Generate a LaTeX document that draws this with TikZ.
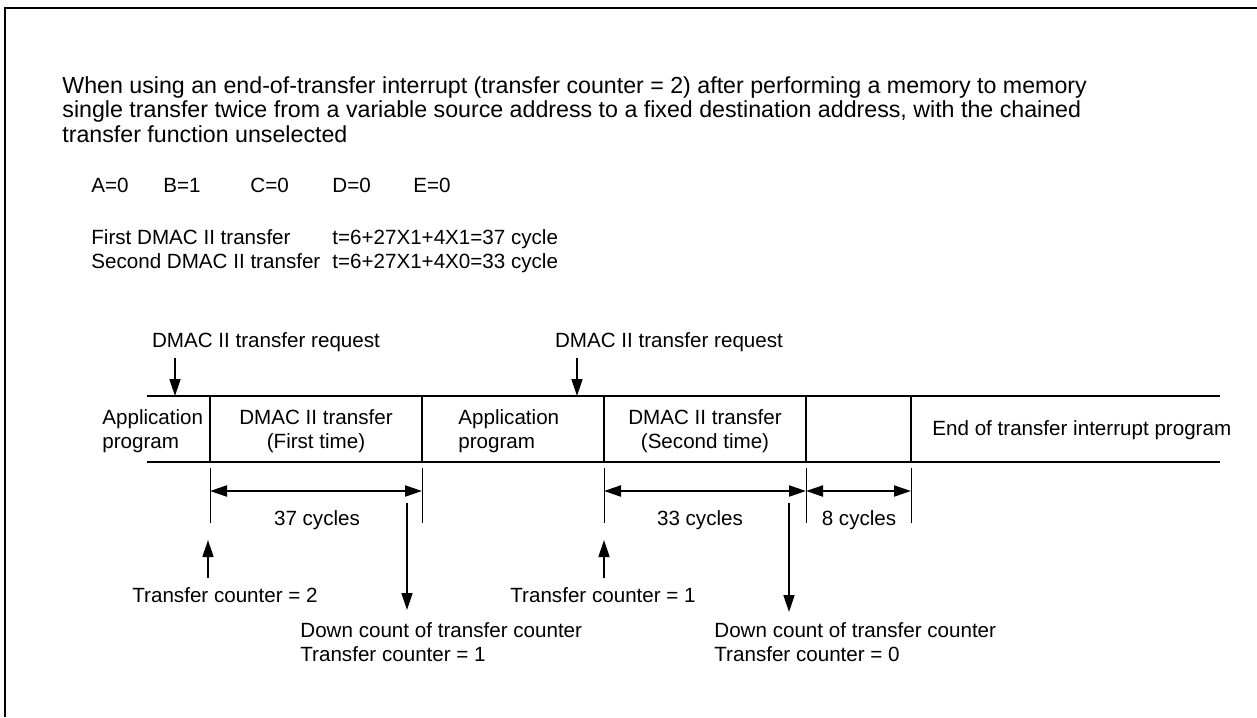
\documentclass[tikz,border=0pt]{standalone}
\usepackage{fontspec}
\setmainfont{Liberation Sans}
\usetikzlibrary{arrows.meta,positioning}

\begin{document}
\begin{tikzpicture}[x=.5pt,y=-.5pt,>={Triangle[length=8.5pt,width=5.5pt]},
  every node/.style={font=\fontsize{10.3}{12.3}\selectfont,inner sep=0pt},
  txt/.style={anchor=base west},bar/.style={line width=1pt},tick/.style={line width=.5pt}]
\useasboundingbox (0,0) rectangle (1257,717);
\draw[line width=1.3pt] (5,717)--(5,8)--(1257,8);
% conditions
\node[anchor=north west,align=left,font=\fontsize{11.6}{12.3}\selectfont] (intro) at (62,76) {When using an end-of-transfer interrupt (transfer counter = 2) after performing a memory to memory\\single transfer twice from a variable source address to a fixed destination address, with the chained\\transfer function unselected};
\node[txt] (a) at (91,192){A=0};\node[txt] (b) at (163,192){B=1};\node[txt] (c) at (250,192){C=0};
\node[txt] (d) at (332,192){D=0};\node[txt] (e) at (413,192){E=0};
\node[anchor=north west,align=left] (xfer) at (91,229) {First DMAC II transfer\\Second DMAC II transfer};
\node[anchor=north west,align=left] (tcalc) at (332,229) {t=6+27X1+4X1=37 cycle\\t=6+27X1+4X0=33 cycle};
% time line
\draw[bar] (147,396)--(1220,396) (147,462)--(1220,462);
\foreach \x/\n in {210/p1,422/p2,604/p3,806/p4,911/p5}{\draw[bar] (\x,396)--(\x,462);\draw[tick] (\x,468)--(\x,523);\coordinate (\n) at (\x,491);}
\node[anchor=west,align=left] (app1) at (102,431){Application\\program};
\node[align=center] (dma1) at (316,431){DMAC II transfer\\(First time)};
\node[anchor=west,align=left] (app2) at (458,431){Application\\program};
\node[align=center] (dma2) at (705,431){DMAC II transfer\\(Second time)};
\node[txt] (intr) at (932,435){End of transfer interrupt program};
% requests
\node[anchor=base] (req1) at (266,347){DMAC II transfer request};\node[anchor=base] (req2) at (669,347){DMAC II transfer request};
\coordinate (q1) at (175,396);\coordinate (q2) at (577,396);
\draw[->,line width=.8pt] ([yshift=-3pt]req1.south -| q1)--(q1);\draw[->,line width=.8pt] ([yshift=-3pt]req2.south -| q2)--(q2);
% cycles
\draw[<->,bar] (p1)--(p2);\draw[<->,bar] (p3)--(p4);\draw[<->,bar] (p4)--(p5);
\node[anchor=base] (cy37) at (317,525){37 cycles};\node[anchor=base] (cy33) at (700,525){33 cycles};\node[anchor=base] (cy8) at (859,525){8 cycles};
% counters
\node[txt] (cnt2) at (132,602){Transfer counter = 2};\node[txt] (cnt1) at (510,602){Transfer counter = 1};
\coordinate (u1) at (208,540);\coordinate (u2) at (604,540);
\draw[->,line width=.8pt] ([yshift=4.5pt]cnt2.north -| u1)--(u1);\draw[->,line width=.8pt] ([yshift=4.5pt]cnt1.north -| u2)--(u2);
\node[anchor=north west,align=left] (dn1) at (300,622){Down count of transfer counter\\Transfer counter = 1};
\node[anchor=north west,align=left] (dn2) at (714,622){Down count of transfer counter\\Transfer counter = 0};
\coordinate (t1) at (407,503);\coordinate (t2) at (789,503);
\draw[->,line width=.8pt] (t1)--([yshift=6pt]dn1.north -| t1);\draw[->,line width=.8pt] (t2)--([yshift=5pt]dn2.north -| t2);
\end{tikzpicture}
\end{document}
